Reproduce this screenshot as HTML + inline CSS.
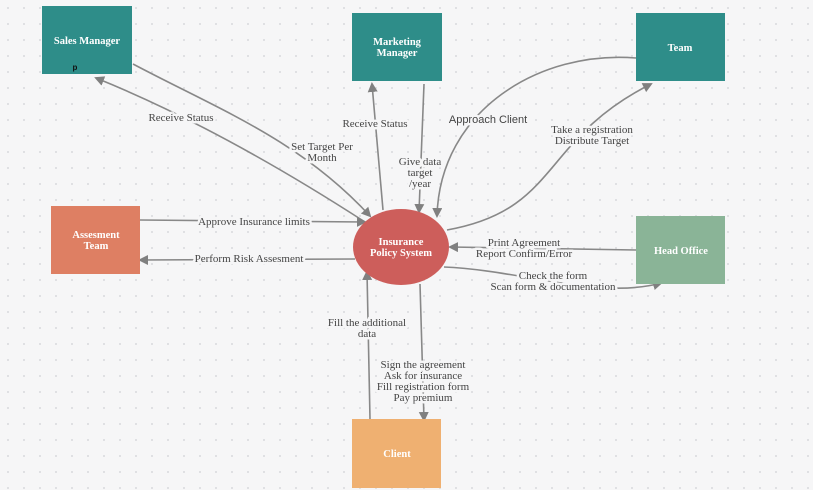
<!DOCTYPE html>
<html><head><style>
html,body{margin:0;padding:0;background:#fff}
svg{display:block}
text{font-family:"Liberation Serif",serif;fill:#444}
.l text{stroke:#f6f6f7;stroke-width:5;paint-order:stroke;stroke-linejoin:round}
.w{fill:#fff}
</style></head><body>
<svg width="821" height="493" viewBox="0 0 821 493" xmlns="http://www.w3.org/2000/svg">
<defs>
<pattern id="d" width="16" height="16" patternUnits="userSpaceOnUse"><circle cx="8" cy="8" r="0.9" fill="#cfd0d4"/></pattern>
<marker id="a" markerWidth="12" markerHeight="12" refX="8" refY="5" orient="auto" markerUnits="userSpaceOnUse"><path d="M0,0 L10,5 L0,10 z" fill="#808080"/></marker>
</defs>
<rect x="0" y="0" width="813" height="490" fill="#f6f6f7"/>
<rect x="0" y="0" width="813" height="490" fill="url(#d)"/>
<g stroke="#888" stroke-width="1.6" fill="none" marker-end="url(#a)">
<path d="M365,222 C300,180 200,120 96,78"/>
<path d="M133,64 C220,110 300,140 370,216"/>
<path d="M383,210 L372,84"/>
<path d="M424,84 L419,212"/>
<path d="M636,58 C540,50 440,110 437,216"/>
<path d="M447,230 C560,210 540,140 651,84"/>
<path d="M140,220 L365,222"/>
<path d="M355,259 L140,260"/>
<path d="M636,250 L450,247"/>
<path d="M444,267 C520,270 600,300 661,283"/>
<path d="M370,419 L367,272"/>
<path d="M420,284 L424,420"/>
</g>
<rect x="42" y="6" width="90" height="68" fill="#2e8d89"/>
<rect x="352" y="13" width="90" height="68" fill="#2e8d89"/>
<rect x="636" y="13" width="89" height="68" fill="#2e8d89"/>
<rect x="51" y="206" width="89" height="68" fill="#de7f63"/>
<rect x="636" y="216" width="89" height="68" fill="#8ab497"/>
<rect x="352" y="419" width="89" height="69" fill="#efb071"/>
<ellipse cx="401" cy="247" rx="48" ry="38" fill="#cd5e5b"/>
<g font-size="10.5" text-anchor="middle" font-weight="bold">
<text x="87" y="44" class="w">Sales Manager</text>
<text x="75" y="70" style="fill:#111;font-family:'Liberation Sans',sans-serif;font-weight:bold" font-size="8">p</text>
<text x="397" y="45" class="w">Marketing</text>
<text x="397" y="56" class="w">Manager</text>
<text x="680" y="51" class="w">Team</text>
<text x="96" y="238" class="w">Assesment</text>
<text x="96" y="249" class="w">Team</text>
<text x="681" y="254" class="w">Head Office</text>
<text x="397" y="457" class="w">Client</text>
<text x="401" y="245" class="w">Insurance</text>
<text x="401" y="256" class="w">Policy System</text>
</g>
<g class="l" font-size="11" text-anchor="middle">
<text x="181" y="121">Receive Status</text>
<text x="322" y="150">Set Target Per</text>
<text x="322" y="161">Month</text>
<text x="375" y="127">Receive Status</text>
<text x="420" y="165">Give data</text>
<text x="420" y="176">target</text>
<text x="420" y="187">/year</text>
<text x="592" y="133">Take a registration</text>
<text x="592" y="144">Distribute Target</text>
<text x="254" y="225">Approve Insurance limits</text>
<text x="249" y="262">Perform Risk Assesment</text>
<text x="524" y="246">Print Agreement</text>
<text x="524" y="257">Report Confirm/Error</text>
<text x="553" y="279">Check the form</text>
<text x="553" y="290">Scan form &amp; documentation</text>
<text x="367" y="326">Fill the additional</text>
<text x="367" y="337">data</text>
<text x="423" y="368">Sign the agreement</text>
<text x="423" y="379">Ask for insurance</text>
<text x="423" y="390">Fill registration form</text>
<text x="423" y="401">Pay premium</text>
<text x="488" y="123" style="font-family:'Liberation Sans',sans-serif">Approach Client</text>
</g>
</svg>
</body></html>
